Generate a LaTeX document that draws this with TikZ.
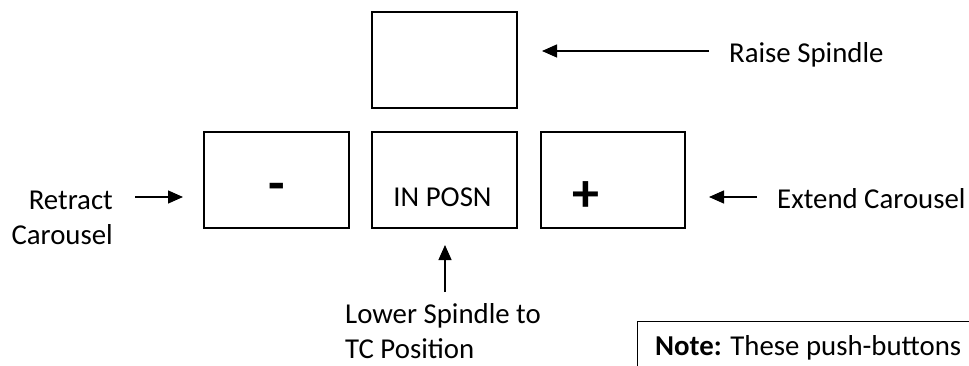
\documentclass[tikz,border=0pt]{standalone}
\usepackage{fontspec}
\setmainfont{Carlito}
\usetikzlibrary{arrows.meta}
\begin{document}
\begin{tikzpicture}[x=1pt,y=-1pt,
  btn/.style={draw, line width=1.3pt, minimum width=145pt, minimum height=96pt, inner sep=0pt},
  lbl/.style={inner sep=0pt, font=\fontsize{28.8}{35}\selectfont},
  sym/.style={inner sep=0pt, font=\fontsize{54}{54}\selectfont\bfseries},
  arr/.style={line width=1.3pt, -{Triangle[length=15pt,width=13pt]}}]
\useasboundingbox (0,0) rectangle (969,366);
\clip (0,0) rectangle (969,366);
% buttons
\node[btn] (top) at (444.5,60) {};
\node[btn] (minus) at (276.5,180) {};
\node[btn] (mid) at (444.5,180) {};
\node[btn, minimum width=144pt] (plus) at (613,180) {};
\node[lbl, anchor=base] (inposn) at (442.5,207) {IN POSN};
\node[sym] (minussym) at (277,192) {-};
\node[sym] (plussym) at (586,197) {+};
% labels
\node[lbl, anchor=base west] (raise) at (729,63) {Raise Spindle};
\node[lbl, anchor=base west] (extend) at (777,209) {Extend Carousel};
\node[lbl, anchor=base east, align=right] (retract) at (113,244) {Retract\\Carousel};
\node[lbl, anchor=base west, align=left] (lower) at (345,358) {Lower Spindle to\\TC Position};
% arrows
\coordinate (rsA) at (709,51); \coordinate (rsB) at (542,51);
\coordinate (ecA) at (757,197); \coordinate (ecB) at (709,197);
\coordinate (rcA) at (135,197); \coordinate (rcB) at (183,197);
\coordinate (lsA) at (445,292); \coordinate (lsB) at (445,245);
\draw[arr] (rsA) -- (rsB);
\draw[arr] (ecA) -- (ecB);
\draw[arr] (rcA) -- (rcB);
\draw[arr] (lsA) -- (lsB);
% note
\node[draw, line width=1.3pt, anchor=north west, minimum width=400pt, minimum height=100pt] (note) at (637,321) {};
\node[lbl, anchor=base west] (notetext) at (655,355) {\textbf{Note:} These push-buttons};
\end{tikzpicture}
\end{document}
